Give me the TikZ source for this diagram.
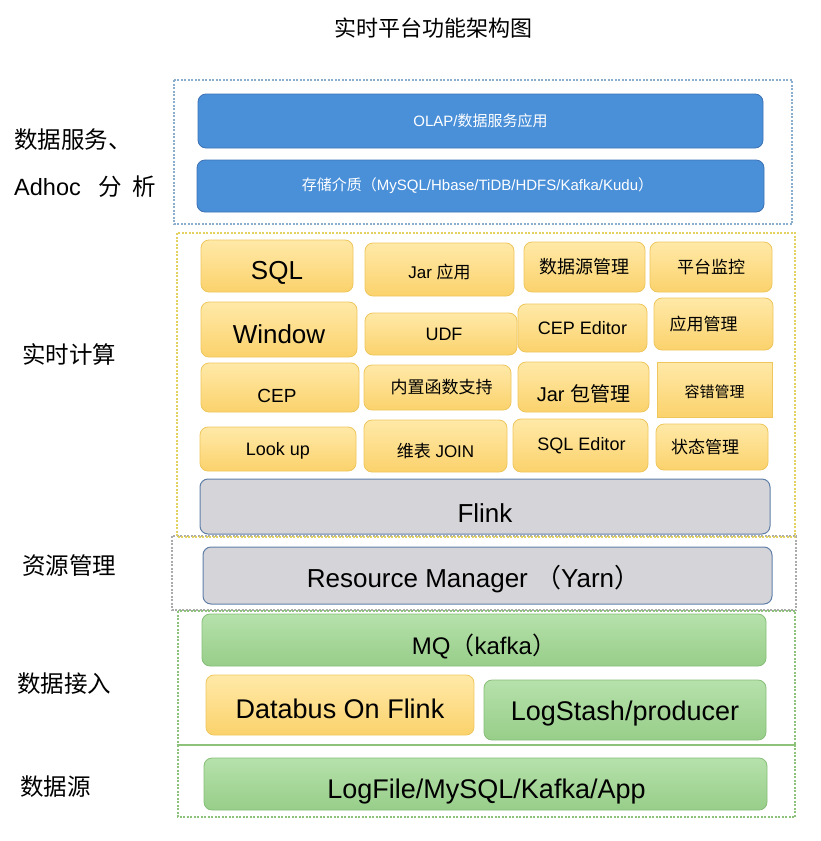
\documentclass[tikz,border=0pt]{standalone}
\usepackage{fontspec}
\setmainfont{Liberation Sans}
\newfontfamily\cjk{Noto Sans CJK SC}
\usepackage{xcolor}
\definecolor{bfill}{HTML}{4A90D9}
\definecolor{bdraw}{HTML}{3C72B4}
\definecolor{ytop}{HTML}{FFE9A8}
\definecolor{ybot}{HTML}{FBD26C}
\definecolor{ydraw}{HTML}{EEC65C}
\definecolor{gtop}{HTML}{B6E1AB}
\definecolor{gbot}{HTML}{97CE89}
\definecolor{gdraw}{HTML}{86BE78}
\definecolor{kfill}{HTML}{D5D4D9}
\definecolor{kdraw}{HTML}{5F7FA8}
\definecolor{grpblue}{HTML}{8AAECB}
\definecolor{grpyellow}{HTML}{E3D260}
\definecolor{grpgray}{HTML}{ABABAB}
\definecolor{grpgreen}{HTML}{8CC27A}

\begin{document}
\begin{tikzpicture}[x=1pt,y=-1pt,
  fs/.style={font=\fontsize{#1}{#1}\selectfont},
  box/.style={rounded corners=8pt,line width=0.8pt,inner sep=0pt},
  bluebox/.style={box,draw=bdraw,fill=bfill},
  ybox/.style={box,draw=ydraw,top color=ytop,bottom color=ybot},
  gbox/.style={box,draw=gdraw,top color=gtop,bottom color=gbot},
  graybox/.style={box,draw=kdraw,fill=kfill,line width=1pt},
  group/.style={line width=1.3pt,dash pattern=on 2pt off 1.5pt},
  side/.style={font=\fontsize{23.5}{24}\selectfont\cjk,anchor=west,inner sep=0pt}]
\useasboundingbox (0,0) rectangle (820,841);

% layer frames
\draw[group,draw=grpblue] (174,80) rectangle (792,224);
\draw[group,draw=grpgray] (172,536) rectangle (796,610);
\draw[group,draw=grpyellow] (177,233) rectangle (795,537);
\draw[group,draw=grpgreen] (178,611) rectangle (795,745);
\draw[group,draw=grpgreen] (178,745) rectangle (795,817);

\node (title) [fs=22] at (433,28) {\cjk 实时平台功能架构图};

% left labels
\node (svc) [side] at (14,140) {数据服务、};
\node (adhoc) [side] at (14,187) {{\rmfamily Adhoc}\hspace{18pt}分\hspace{10pt}析};
\node (rt) [side] at (22,354) {实时计算};
\node (res) [side] at (22,566) {资源管理};
\node (ingest) [side] at (17,684) {数据接入};
\node (src) [side] at (20,787) {数据源};

% data service
\node (olap) [bluebox,minimum width=565,minimum height=54,label={[fs=15,white]center:OLAP/{\cjk 数据服务应用}}] at (480.5,121) {};
\node (store) [bluebox,minimum width=567,minimum height=52,label={[fs=15,white,xshift=-3pt]center:{\cjk 存储介质（}MySQL/Hbase/TiDB/HDFS/Kafka/Kudu{\cjk ）}}] at (480.5,186) {};

% real-time computing
\node (sql) [ybox,minimum width=152,minimum height=52,label={[fs=26,yshift=-7pt]center:SQL}] at (277,266) {};
\node (jarapp) [ybox,minimum width=149,minimum height=53,label={[fs=17,yshift=-3pt]center:Jar {\cjk 应用}}] at (439.5,269.5) {};
\node (dsm) [ybox,minimum width=121,minimum height=50,label={[fs=18]center:\cjk 数据源管理}] at (584.5,267) {};
\node (mon) [ybox,minimum width=122,minimum height=50,label={[fs=17]center:\cjk 平台监控}] at (711,267) {};

\node (win) [ybox,minimum width=156,minimum height=55,label={[fs=26,yshift=-5pt]center:Window}] at (279,329.5) {};
\node (udf) [ybox,minimum width=152,minimum height=42,label={[fs=18,xshift=3pt]center:UDF}] at (441,334) {};
\node (cepedit) [ybox,minimum width=129,minimum height=48,label={[fs=18]center:CEP Editor}] at (582.5,328) {};
\node (appm) [ybox,minimum width=119,minimum height=52,label={[fs=17,xshift=-10pt]center:\cjk 应用管理}] at (713.5,324) {};

\node (cep) [ybox,minimum width=158,minimum height=49,label={[fs=19,xshift=-3pt,yshift=-8pt]center:CEP}] at (280,387.5) {};
\node (builtin) [ybox,minimum width=147,minimum height=45,label={[fs=17,xshift=4pt]center:\cjk 内置函数支持}] at (437.5,387.5) {};
\node (jarm) [ybox,minimum width=131,minimum height=50,label={[fs=20,yshift=-7pt]center:Jar {\cjk 包管理}}] at (583.5,387) {};
\node (ft) [ybox,rounded corners=0pt,minimum width=115,minimum height=55,label={[fs=15,yshift=-2pt]center:\cjk 容错管理}] at (714.5,389.5) {};

\node (lookup) [ybox,minimum width=156,minimum height=44,label={[fs=18,yshift=-2pt]center:Look up}] at (278,449) {};
\node (dimjoin) [ybox,minimum width=143,minimum height=52,label={[fs=17,yshift=-5pt]center:{\cjk 维表} JOIN}] at (435.5,446) {};
\node (sqledit) [ybox,minimum width=135,minimum height=53,label={[fs=18,xshift=1pt]center:SQL Editor}] at (580.5,445.5) {};
\node (state) [ybox,minimum width=112,minimum height=46,label={[fs=17,xshift=-7pt]center:\cjk 状态管理}] at (712,447) {};

\node (flink) [graybox,minimum width=570,minimum height=55,label={[fs=26,yshift=-7pt]center:Flink}] at (485,506.5) {};

% resource management
\node (rm) [graybox,minimum width=569,minimum height=57,label={[fs=26,xshift=-14pt,yshift=-4pt]center:Resource Manager\ {\cjk （}Yarn{\cjk ）}}] at (487.5,575.5) {};

% data ingestion
\node (mq) [gbox,minimum width=564,minimum height=52,label={[fs=24,yshift=-6pt]center:MQ{\cjk （}kafka{\cjk ）}}] at (484,640) {};
\node (databus) [ybox,minimum width=268,minimum height=60,label={[fs=27,yshift=-4pt]center:Databus On Flink}] at (340,705) {};
\node (logstash) [gbox,minimum width=282,minimum height=60,label={[fs=27,yshift=-4pt]center:LogStash/producer}] at (625,710) {};

% data sources
\node (logfile) [gbox,minimum width=563,minimum height=52,label={[fs=27,xshift=1pt,yshift=-8pt]center:LogFile/MySQL/Kafka/App}] at (485.5,784) {};
\end{tikzpicture}
\end{document}
